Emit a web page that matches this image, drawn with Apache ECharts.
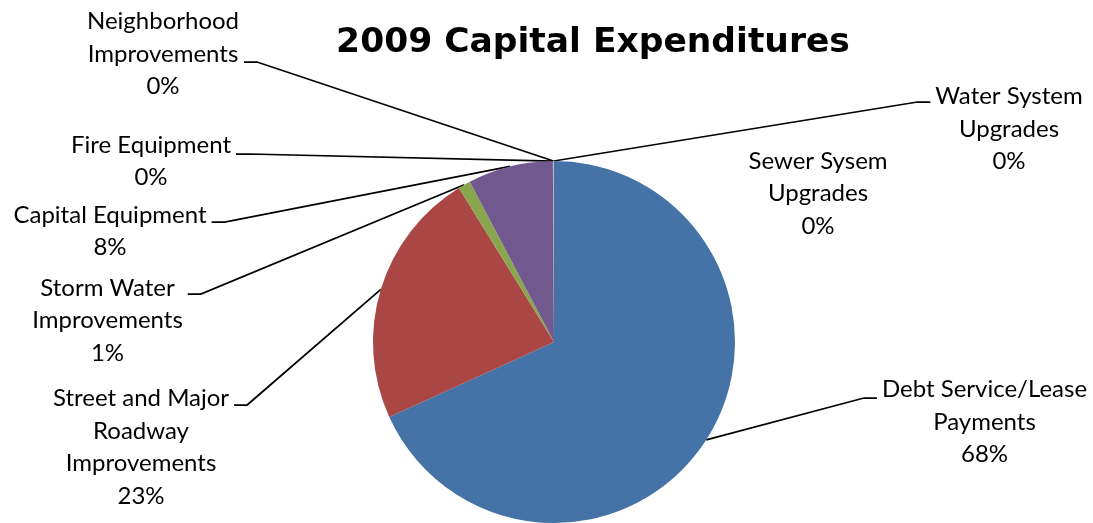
<!DOCTYPE html>
<html><head><meta charset="utf-8">
<script src="https://cdn.jsdelivr.net/npm/echarts@6/dist/echarts.min.js"></script>
<style>html,body{margin:0;padding:0;background:#fff}#c{width:1093px;height:523px}</style>
</head><body><div id="c"></div>
<script>
// ---- data ----
const titleText = '2009 Capital Expenditures';
const categories = [
  'Debt Service/Lease\nPayments',
  'Street and Major\nRoadway\nImprovements',
  'Storm Water\nImprovements',
  'Capital Equipment',
  'Fire Equipment',
  'Neighborhood\nImprovements',
  'Water System\nUpgrades',
  'Sewer Sysem\nUpgrades'
];
const values = [68.2, 23.0, 1.1, 7.6, 0.03, 0.04, 0.03, 0];

// ---- styles / layout ----
const colors = ['#4572A7', '#AA4643', '#89A54E', '#71588F', '#4198AF', '#DB843D', '#93A9CF', '#D19392'];
const FONT = 'Lato';
const LABEL_SIZE = 24;
const LH = 32.5;
// label placement: [centre x, middle of first line, leader y (null = no leader), side of pie]
const labelPlace = [
  [984.5, 389.5, 398, 'right'],
  [141, 398.5, 405, 'left'],
  [107.5, 288, 294, 'left'],
  [110, 215, 222, 'left'],
  [151, 145, 154, 'left'],
  [163, 21.5, 62, 'left'],
  [1009, 96.5, 102, 'right'],
  [818, 161, null, 'right']
];

const chart = echarts.init(document.getElementById('c'), null, {renderer: 'canvas'});
const seriesData = categories.map((name, i) => ({
  name: name,
  value: values[i],
  itemStyle: {color: colors[i]},
  labelLine: {show: labelPlace[i][2] != null}
}));

chart.setOption({
  animation: false,
  backgroundColor: '#ffffff',
  title: {
    text: titleText,
    left: 593,
    top: 26,
    padding: 0,
    textAlign: 'center',
    textStyle: {fontFamily: 'DejaVu Sans', fontWeight: 'bold', fontSize: 34.5, color: '#000'}
  },
  series: [{
    type: 'pie',
    center: [554, 342],
    radius: 181,
    startAngle: 90,
    clockwise: true,
    avoidLabelOverlap: false,
    silent: true,
    emphasis: {disabled: true},
    itemStyle: {borderWidth: 0},
    label: {
      show: true,
      position: 'outside',
      fontFamily: FONT,
      fontSize: LABEL_SIZE,
      lineHeight: LH,
      color: '#000',
      align: 'center',
      formatter: p => p.name + '\n' + Math.round(p.percent) + '%'
    },
    labelLine: {show: true, length: 20, length2: 15, lineStyle: {color: '#000', width: 1.75}},
    labelLayout: function (params) {
      const p = labelPlace[params.dataIndex];
      const w = params.labelRect.width;
      const out = {x: p[0], y: p[1] - LH / 2, align: 'center', verticalAlign: 'top'};
      if (p[2] != null && params.labelLinePoints) {
        const e = params.labelLinePoints[0];
        const ax = p[3] === 'left' ? p[0] + w / 2 + 5 : p[0] - w / 2 - 5;
        const bx = p[3] === 'left' ? ax + 13 : ax - 13;
        out.labelLinePoints = [[e[0], e[1]], [bx, p[2]], [ax, p[2]]];
      }
      return out;
    },
    data: seriesData
  }]
});
</script>
</body></html>
